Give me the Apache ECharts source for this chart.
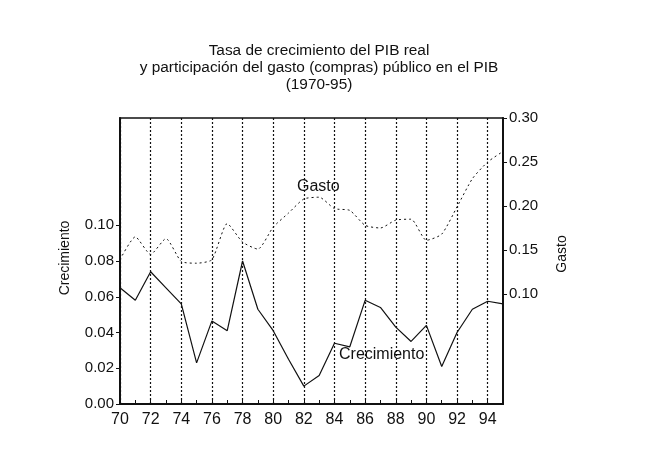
<!DOCTYPE html>
<html>
<head>
<meta charset="utf-8">
<script src="https://cdn.jsdelivr.net/npm/echarts@6/dist/echarts.min.js"></script>
<style>
  html, body { margin: 0; padding: 0; background: #fff; }
  #chart { width: 653px; height: 468px; }
</style>
</head>
<body>
<div id="chart"></div>
<script>
// años 1970-95
const years = ['70','71','72','73','74','75','76','77','78','79','80','81','82',
  '83','84','85','86','87','88','89','90','91','92','93','94','95'];

// tasa de crecimiento del PIB real (eje izquierdo)
const crecimiento = [0.065, 0.058, 0.074, 0.065, 0.056, 0.023, 0.0465, 0.041, 0.080,
  0.053, 0.041, 0.025, 0.010, 0.016, 0.034, 0.032, 0.058, 0.054, 0.043, 0.035,
  0.044, 0.021, 0.040, 0.053, 0.0575, 0.056];

// participación del gasto público en el PIB (eje derecho)
const gasto = [0.139, 0.165, 0.145, 0.163, 0.137, 0.135, 0.139, 0.180, 0.159, 0.151,
  0.176, 0.192, 0.208, 0.210, 0.197, 0.195, 0.178, 0.175, 0.184, 0.185,
  0.161, 0.168, 0.199, 0.231, 0.250, 0.262];

const leftTicks = [0, 0.02, 0.04, 0.06, 0.08, 0.10];
const rightTicks = [0.10, 0.15, 0.20, 0.25, 0.30];

const chart = echarts.init(document.getElementById('chart'));
const font = 'Liberation Sans, Arial, sans-serif';

chart.setOption({
  backgroundColor: '#fff',
  animation: false,
  title: {
    text: 'Tasa de crecimiento del PIB real\ny participación del gasto (compras) público en el PIB\n(1970-95)',
    left: 314,
    top: 37,
    textAlign: 'center',
    textStyle: { fontFamily: font, fontSize: 15.4, fontWeight: 'normal', color: '#111', lineHeight: 17 }
  },
  grid: {
    left: 120, right: 150, top: 118, bottom: 64,
    show: true, borderColor: '#111', borderWidth: 1.5
  },
  xAxis: {
    type: 'category',
    data: years,
    boundaryGap: false,
    axisLine: { lineStyle: { color: '#111', width: 2 } },
    axisTick: { interval: 0, length: 4, inside: true, lineStyle: { color: '#111' } },
    axisLabel: {
      interval: (i) => i % 2 === 0 && i < 25,
      fontFamily: font, fontSize: 16, color: '#111', margin: 8
    },
    splitLine: {
      show: true,
      interval: (i) => i % 2 === 0,
      lineStyle: { color: '#111', type: [2, 2], width: 1.2 }
    }
  },
  yAxis: [
    {
      type: 'value',
      name: 'Crecimiento',
      nameLocation: 'middle',
      nameGap: 48,
      nameRotate: 90,
      nameTextStyle: { fontFamily: font, fontSize: 14, color: '#111', padding: [0, 0, 0, 6] },
      min: 0, max: 0.16,
      axisLine: { show: true, lineStyle: { color: '#111', width: 2 } },
      axisTick: { show: true, customValues: leftTicks, length: 4, lineStyle: { color: '#111' } },
      axisLabel: {
        customValues: leftTicks,
        formatter: (v) => v.toFixed(2),
        fontFamily: font, fontSize: 15, color: '#111', margin: 6
      },
      splitLine: { show: false }
    },
    {
      type: 'value',
      name: 'Gasto',
      nameLocation: 'middle',
      nameGap: 52,
      nameRotate: 90,
      nameTextStyle: { fontFamily: font, fontSize: 14, color: '#111', padding: [0, 0, 0, 14] },
      min: -0.025, max: 0.30,
      position: 'right',
      axisLine: { show: true, lineStyle: { color: '#111', width: 2 } },
      axisTick: { show: true, customValues: rightTicks, length: 4, lineStyle: { color: '#111' } },
      axisLabel: {
        customValues: rightTicks,
        formatter: (v) => v.toFixed(2),
        fontFamily: font, fontSize: 15, color: '#111', margin: 6
      },
      splitLine: { show: false }
    }
  ],
  series: [
    {
      name: 'Crecimiento',
      type: 'line',
      yAxisIndex: 0,
      data: crecimiento,
      symbol: 'none',
      lineStyle: { color: '#111', width: 1.2 }
    },
    {
      name: 'Gasto',
      type: 'line',
      yAxisIndex: 1,
      data: gasto,
      symbol: 'none',
      smooth: 0.2,
      lineStyle: { color: '#111', width: 1, type: [2, 3] }
    }
  ],
  graphic: [
    { type: 'text', left: 297, top: 179, style: { text: 'Gasto', font: '16px ' + font, fill: '#111' } },
    { type: 'text', left: 339, top: 347, style: { text: 'Crecimiento', font: '16px ' + font, fill: '#111' } }
  ]
});
</script>
</body>
</html>
